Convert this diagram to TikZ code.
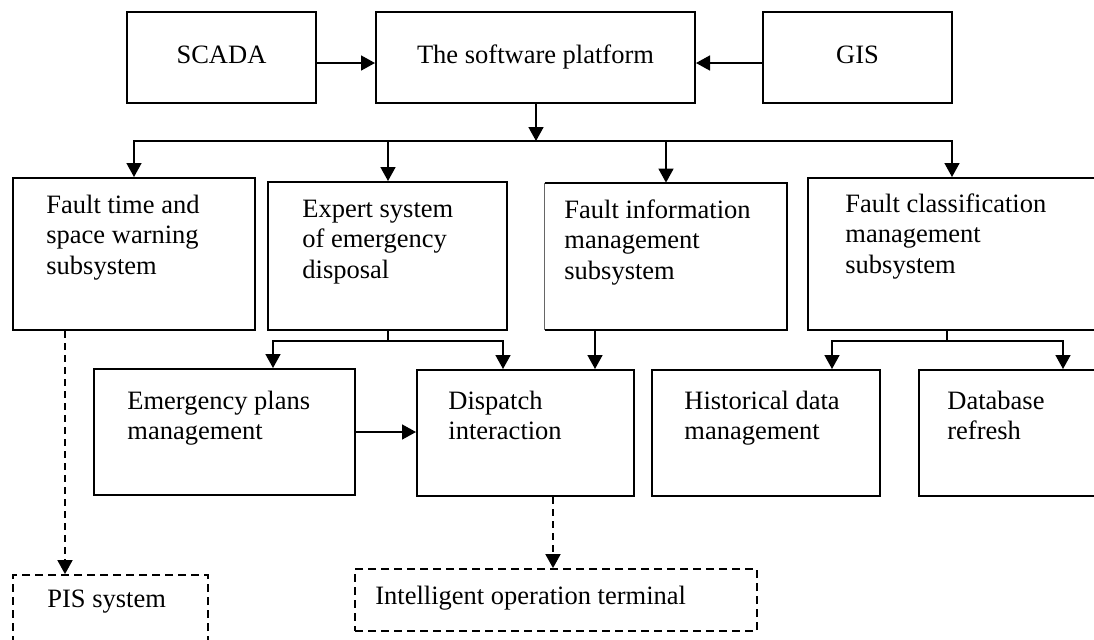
\documentclass[tikz,border=0pt]{standalone}
\usepackage{fontspec}
\setmainfont{Liberation Serif}
\usetikzlibrary{arrows.meta,fit}
\begin{document}
\begin{tikzpicture}[
  x=0.5pt, y=-0.5pt,
  font=\fontsize{13.25pt}{15.25pt}\selectfont,
  box/.style={draw, line width=1pt, inner sep=0pt},
  bare/.style={inner sep=0pt},
  dbox/.style={draw, line width=0.9pt, dash pattern=on 4pt off 2.5pt, inner sep=0pt},
  txt/.style={anchor=north west, inner sep=0pt, align=left},
  ctxt/.style={anchor=base, inner sep=0pt},
  link/.style={line width=0.8pt},
  arr/.style={link, -{Triangle[length=7pt,width=7.5pt]}},
  darr/.style={arr, line width=0.9pt, dash pattern=on 3.5pt off 2.5pt}
]
\useasboundingbox (0,0) rectangle (1094,639);
\clip (0,0) rectangle (1094,639);

% top row: data sources and platform
\node[box, fit={(127,12) (316,103)}] (scada) {};
\node[box, fit={(376,12) (695,103)}] (plat) {};
\node[box, fit={(763,12) (952,103)}] (gis) {};
\node[ctxt] (scada-t) at (221.5,63) {SCADA};
\node[ctxt] (plat-t) at (535.5,63) {The software platform};
\node[ctxt] (gis-t) at (857.5,63) {GIS};

% subsystems
\node[box, fit={(13,178) (255,330)}] (warn) {};
\node[box, fit={(268,182) (507,330)}] (expert) {};
\node[bare, fit={(545,183) (787,330)}] (finfo) {};
\draw[line width=1pt] (finfo.south west) -- (finfo.south east) -- (finfo.north east) -- (finfo.north west);
\draw[line width=0.4pt, black!60] (finfo.north west) -- (finfo.south west);
\node[box, fit={(808,178) (1096,330)}] (fclass) {};

\node[txt] (warn-t) at (46,191.65) {\strut Fault time and\\space warning\\subsystem};
\node[txt] (expert-t) at (302,195.65) {\strut Expert system\\of emergency\\disposal};
\node[txt] (finfo-t) at (564,196.65) {\strut Fault information\\management\\subsystem};
\node[txt] (fclass-t) at (845,190.65) {\strut Fault classification\\management\\subsystem};

% functional modules
\node[box, fit={(94,369) (355,495)}] (plans) {};
\node[box, fit={(417,370) (634,496)}] (disp) {};
\node[box, fit={(652,370) (880,496)}] (hist) {};
\node[box, fit={(919,370) (1110,496)}] (dbr) {};

\node[txt] (plans-t) at (127,387.65) {\strut Emergency plans\\management};
\node[txt] (disp-t) at (448,387.65) {\strut Dispatch\\interaction};
\node[txt] (hist-t) at (684,387.65) {\strut Historical data\\management};
\node[txt] (dbr-t) at (947,387.65) {\strut Database\\refresh};

% external terminals
\node[dbox, fit={(13,575) (208,670)}] (pis) {};
\node[dbox, fit={(355,569) (757,631)}] (term) {};
\node[txt] (pis-t) at (47,585.65) {\strut PIS system};
\node[txt] (term-t) at (375,582.65) {\strut Intelligent operation terminal};

% inputs to the platform
\draw[arr] (scada.east |- 0,63) -- (plat.west |- 0,63);
\draw[arr] (gis.west |- 0,63) -- (plat.east |- 0,63);

% platform distribution bus
\coordinate (bus) at (536,141);
\coordinate (busex) at (388,141);
\draw[arr] (plat.south -| bus) -- (bus);
\draw[arr] (bus) -| (warn.north);
\draw[arr] (bus) -| (fclass.north);
\draw[arr] (busex) -- (busex |- expert.north);
\draw[arr] (bus -| finfo.north) -- (finfo.north);

% expert system branches
\coordinate (exj) at (388,341);
\draw[link] (expert.south -| exj) -- (exj);
\draw[arr] (exj) -| (plans.north -| 273,0);
\draw[arr] (exj) -| (disp.north -| 503,0);
\draw[arr] (finfo.south -| 595,0) -- (disp.north -| 595,0);
\draw[arr] (plans.east |- 0,432) -- (disp.west |- 0,432);

% fault classification branches
\coordinate (fcj) at (947,341);
\draw[link] (fclass.south -| fcj) -- (fcj);
\draw[arr] (fcj) -| (hist.north -| 832,0);
\draw[arr] (fcj) -| (dbr.north -| 1063,0);

% dashed links to terminals
\draw[darr] (warn.south -| 65,0) -- (pis.north -| 65,0);
\draw[darr] (disp.south -| 553,0) -- (term.north -| 553,0);
\end{tikzpicture}
\end{document}
